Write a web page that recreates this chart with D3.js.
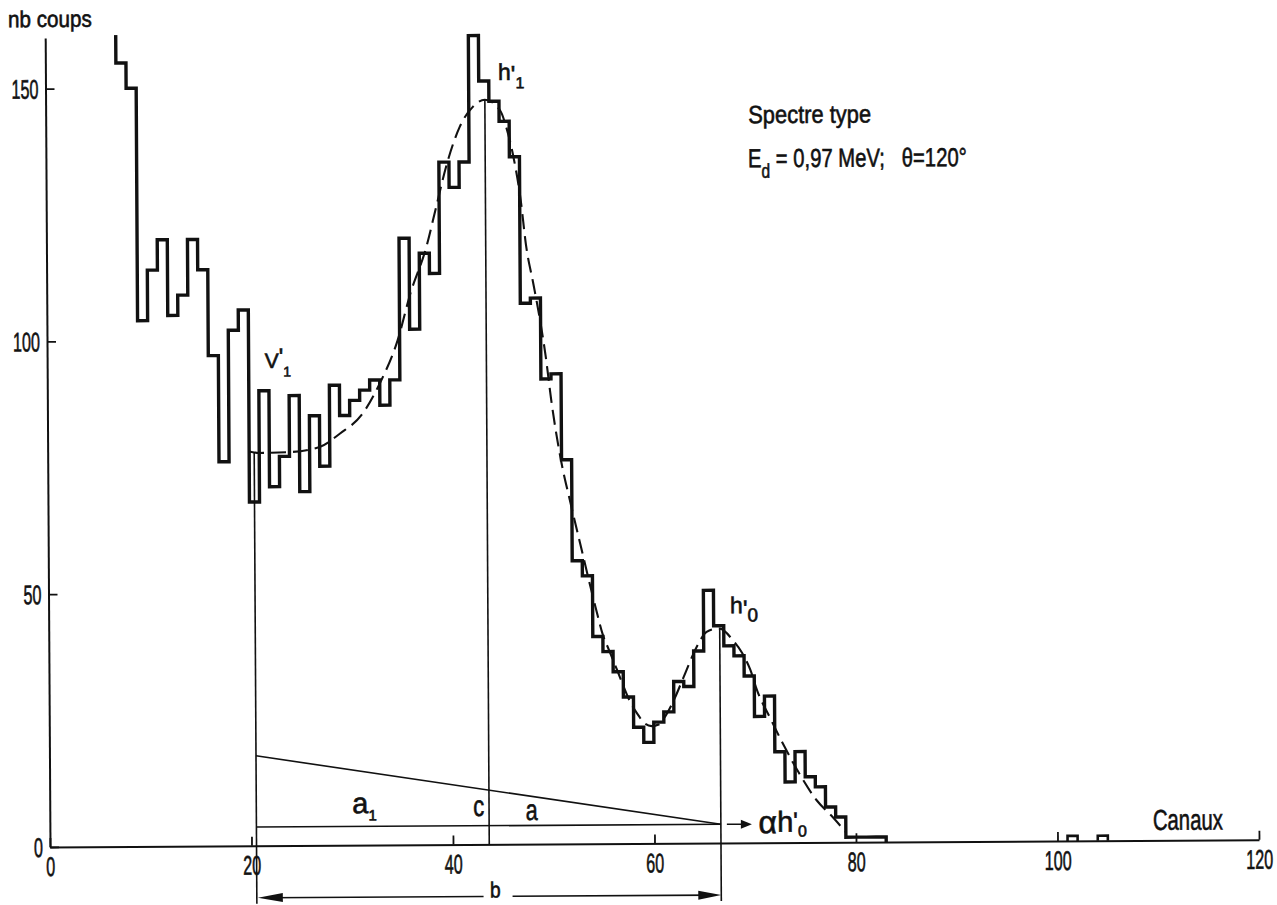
<!DOCTYPE html>
<html>
<head>
<meta charset="utf-8">
<title>Spectre type</title>
<script src="https://cdn.jsdelivr.net/npm/d3@7"></script>
<style>
  html, body { margin: 0; padding: 0; background: #fff; }
  svg { display: block; }
</style>
</head>
<body>
<svg id="chart" width="1277" height="905"></svg>
<script>
// ---- data -------------------------------------------------------------
// Counts per channel (bin [n, n+1]), starting at firstChannel.
// The first bin is off scale and gets clipped at the top of the frame.
const firstChannel = 6;
const counts = [
  175, 155, 150, 104, 114, 120, 105, 109, 120, 114,   // 6-15
   97,  76, 102, 106,  68,  90,  71,  77,  89,  70,   // 16-25
   85,  75,  91,  85,  88,  90,  92,  87,  92, 120,   // 26-35
  102, 117, 113, 135, 130, 135, 160, 151, 147, 143,   // 36-45
  136, 107, 108,  92,  93,  76,  56,  53,  41,  38,   // 46-55
   34,  29,  23,  20,  24,  26,  32,  31,  38,  50,   // 56-65
   43,  39,  37,  33,  25,  29,  18,  12,  18,  13,   // 66-75
   11,   7,   5,   1,   1,   1,   1,   0,   0,   0,   // 76-85
    0,   0,   0,   0,   0,   0,   0,   0,   0,   0,   // 86-95
    0,   0,   0,   0,   0,   1,   0,   0,   1,   0    // 96-105
];

// Fitted curve (dashed)
const fitChannels = [20.0, 21.0, 23.7, 27.0, 29.0, 31.3, 33.0, 34.8, 36.1, 37.7,
                     38.7, 39.7, 41.1, 42.4, 43.6, 45.1, 45.7, 46.4, 47.1, 47.6,
                     48.3, 48.9, 49.5, 50.0, 51.0, 51.8, 52.8, 54.3, 55.0, 55.6,
                     56.5, 57.0, 57.7, 58.5, 59.0, 59.8, 60.5, 61.0, 62.0, 63.0,
                     64.3, 65.3, 66.3, 66.6, 67.9, 68.8, 69.6, 70.3, 71.5, 72.8,
                     74.4, 76.1, 77.7, 79.0];
const fitCounts   = [78.0, 77.7, 77.8, 78.8, 81.4, 85.4, 91.3, 99.8, 109.1, 118.2,
                     126.1, 134.0, 142.0, 145.9, 147.3, 145.2, 141.9, 136.0, 127.4, 118.5,
                     110.9, 104.2, 96.3, 88.0, 75.3, 68.0, 59.4, 46.7, 41.3, 38.3,
                     33.8, 31.2, 27.9, 25.3, 23.9, 23.2, 23.5, 24.7, 28.3, 32.9,
                     38.8, 41.8, 42.4, 42.4, 40.1, 37.6, 34.3, 30.0, 24.9, 19.6,
                     13.7, 8.4, 5.0, 2.0];

const xTicks = [0, 20, 40, 60, 80, 100, 120];
const yTicks = [0, 50, 100, 150];

// Construction marks: valley V'1, peaks h'1 and h'0, base line level
const valleyChannel = 20.5;
const peak1Channel  = 43.6;
const peak0Channel  = 66.6;
const baseLevel     = 3.7;   // alpha h'0
const slopeStart    = 17.8;  // background line at the valley channel

// ---- setup ------------------------------------------------------------
const FONT = "'Liberation Sans', Arial, sans-serif";
const INK = '#111';
const DIGIT_SQUEEZE = 0.6;   // narrow stencil-like figures

const svg = d3.select('#chart');
const x = d3.scaleLinear().domain([0, 120]).range([50, 1259]);
const y = d3.scaleLinear().domain([0, 160]).range([847, 38.1]);

// whole sheet sits very slightly turned
const g = svg.append('g').attr('transform', 'rotate(-0.34,50,847)');

// lettering: slightly heavier than the plain face
function ink(t) {
  return t.attr('font-family', FONT).attr('fill', INK)
    .attr('stroke', INK).attr('stroke-width', 0.6).attr('paint-order', 'stroke');
}

// text squeezed horizontally to a given width
function label(txt, px, py, size, width) {
  const t = ink(g.append('text'))
    .attr('x', 0).attr('y', 0)
    .attr('font-size', size)
    .text(txt);
  const natural = t.node().getComputedTextLength();
  const sx = width ? width / natural : 1;
  t.attr('transform', `translate(${px},${py}) scale(${sx},1)`);
  return t;
}

// letter followed by prime and/or index, in one text element
function primed(px, py, main, mainSize, parts) {
  const t = ink(g.append('text')).attr('x', px).attr('y', py).attr('font-size', mainSize);
  t.append('tspan').text(main);
  parts.forEach(p => {
    t.append('tspan').attr('font-size', p.size).attr('dx', p.dx).attr('dy', p.dy).text(p.t);
  });
  return t;
}

// ---- axes -------------------------------------------------------------
const xAxis = d3.axisBottom(x).tickValues(xTicks)
  .tickSizeInner(-9).tickSizeOuter(0).tickPadding(0).tickFormat(d3.format('d'));
const gx = g.append('g').attr('transform', `translate(0,${y(0)})`).call(xAxis);
gx.select('.domain').attr('stroke', INK).attr('stroke-width', 2);
gx.selectAll('.tick line').attr('stroke', INK).attr('stroke-width', 1.8);
ink(gx.selectAll('.tick text'))
  .attr('x', 0).attr('y', 0).attr('dy', null)
  .attr('font-size', 27)
  .attr('transform', `translate(0,29) scale(${DIGIT_SQUEEZE},1)`);

const yAxis = d3.axisLeft(y).tickValues(yTicks)
  .tickSizeInner(-9).tickSizeOuter(0).tickPadding(7).tickFormat(d3.format('d'));
const gy = g.append('g').attr('transform', `translate(${x(0)},0)`).call(yAxis);
gy.select('.domain').attr('stroke', INK).attr('stroke-width', 2);
gy.selectAll('.tick line').attr('stroke', INK).attr('stroke-width', 1.8);
ink(gy.selectAll('.tick text'))
  .attr('x', 0).attr('dy', '0.35em')
  .attr('font-size', 27)
  .attr('transform', `translate(-7,0) scale(${DIGIT_SQUEEZE},1)`);

// ---- histogram --------------------------------------------------------
g.append('clipPath').attr('id', 'plotClip')
  .append('rect')
  .attr('x', x(0)).attr('y', y(160.5))
  .attr('width', x(120) - x(0)).attr('height', y(0) - y(160.5) + 10);

const step = d3.line().x(d => x(d[0])).y(d => y(d[1])).curve(d3.curveStepAfter);

const runs = [];
let cur = null;
counts.forEach((v, i) => {
  if (v > 0) {
    if (!cur) { cur = []; runs.push(cur); }
    cur.push([firstChannel + i, v]);
  } else cur = null;
});

runs.forEach(run => {
  const pts = [];
  if (run[0][0] > firstChannel) pts.push([run[0][0], 0]);
  run.forEach(p => pts.push(p));
  pts.push([run[run.length - 1][0] + 1, 0]);
  g.append('path')
    .attr('d', step(pts))
    .attr('clip-path', 'url(#plotClip)')
    .attr('fill', 'none')
    .attr('stroke', INK)
    .attr('stroke-width', run.length > 3 ? 3.4 : 2.6)
    .attr('stroke-linejoin', 'miter');
});

// ---- fitted curve -----------------------------------------------------
const fitLine = d3.line()
  .x((d, i) => x(fitChannels[i]))
  .y(d => y(d))
  .curve(d3.curveMonotoneX);
g.append('path')
  .attr('d', fitLine(fitCounts))
  .attr('fill', 'none')
  .attr('stroke', INK)
  .attr('stroke-width', 2.1)
  .attr('stroke-dasharray', '15 7');

function fitAt(c) {
  const i = d3.bisectLeft(fitChannels, c);
  if (i <= 0) return fitCounts[0];
  if (i >= fitChannels.length) return fitCounts[fitCounts.length - 1];
  const c0 = fitChannels[i - 1], c1 = fitChannels[i];
  const t = (c - c0) / (c1 - c0);
  return fitCounts[i - 1] + t * (fitCounts[i] - fitCounts[i - 1]);
}

// ---- construction lines ----------------------------------------------
const thin = sel => sel.attr('stroke', INK).attr('stroke-width', 1.6).attr('fill', 'none');
const dimY = y(0) + 52;   // level of the "b" dimension arrow
const lowEnd = y(0) + 58;

thin(g.append('line')
  .attr('x1', x(valleyChannel)).attr('x2', x(valleyChannel))
  .attr('y1', y(fitAt(valleyChannel))).attr('y2', lowEnd));
thin(g.append('line')
  .attr('x1', x(peak1Channel)).attr('x2', x(peak1Channel))
  .attr('y1', y(fitAt(peak1Channel))).attr('y2', y(0)));
thin(g.append('line')
  .attr('x1', x(peak0Channel)).attr('x2', x(peak0Channel))
  .attr('y1', y(fitAt(peak0Channel))).attr('y2', lowEnd));

// sloping background line and base line
thin(g.append('line')
  .attr('x1', x(valleyChannel)).attr('y1', y(slopeStart))
  .attr('x2', x(peak0Channel)).attr('y2', y(baseLevel)));
thin(g.append('line')
  .attr('x1', x(valleyChannel)).attr('y1', y(baseLevel))
  .attr('x2', x(peak0Channel)).attr('y2', y(baseLevel)));

// arrow toward "alpha h'0"
const arrowTail = x(peak0Channel) + 6, arrowTip = x(peak0Channel) + 31;
thin(g.append('line')
  .attr('x1', arrowTail).attr('x2', arrowTip - 9)
  .attr('y1', y(baseLevel)).attr('y2', y(baseLevel)));
g.append('path')
  .attr('d', `M${arrowTip},${y(baseLevel)}L${arrowTip - 11},${y(baseLevel) - 4.5}L${arrowTip - 11},${y(baseLevel) + 4.5}Z`)
  .attr('fill', INK);

// dimension arrow "b" between valley and h'0 channels
const bLeft = x(valleyChannel) + 1, bRight = x(peak0Channel);
const bMid = (bLeft + bRight) / 2;
thin(g.append('line').attr('x1', bLeft + 10).attr('x2', bMid - 6).attr('y1', dimY).attr('y2', dimY));
thin(g.append('line').attr('x1', bMid + 23).attr('x2', bRight - 10).attr('y1', dimY).attr('y2', dimY));
g.append('path')
  .attr('d', `M${bLeft},${dimY}L${bLeft + 25},${dimY - 4.5}L${bLeft + 25},${dimY + 4.5}Z`)
  .attr('fill', INK);
g.append('path')
  .attr('d', `M${bRight},${dimY}L${bRight - 23},${dimY - 4.5}L${bRight - 23},${dimY + 4.5}Z`)
  .attr('fill', INK);

// ---- text -------------------------------------------------------------
label('nb coups', 12.8, 27, 23, 84);
label('Canaux', 1153, 836.5, 29, 70);

label('Spectre type', 752.5, 127.4, 25, 123);

// E_d = 0,97 MeV;  θ=120°  (one line, index lowered)
{
  const t = ink(g.append('text')).attr('x', 0).attr('y', 0).attr('font-size', 26);
  t.append('tspan').text('E');
  t.append('tspan').attr('font-size', 20).attr('dy', 10.5).text('d');
  t.append('tspan').attr('dy', -10.5).text(' = 0,97 MeV;\u00a0\u00a0\u00a0θ=120°');
  const natural = t.node().getComputedTextLength();
  t.attr('transform', `translate(752,171.5) scale(${219 / natural},1)`);
}

// V'1
primed(267.5, 369.3, 'V', 21, [
  { t: "'", size: 24, dx: 0, dy: -3 },
  { t: '1', size: 14, dx: 0, dy: 11.7 }
]);

// h'1
primed(502.5, 82.7, 'h', 23, [
  { t: "'", size: 24, dx: 0, dy: 2.5 },
  { t: '1', size: 16, dx: 0, dy: 5.8 }
]);

// h'0
primed(731.5, 617.3, 'h', 23, [
  { t: "'", size: 24, dx: 0, dy: 3.7 },
  { t: '0', size: 19, dx: 0, dy: 4.7 }
]);

// segment names on the base construction
primed(352.5, 815, 'a', 29, [
  { t: '1', size: 15, dx: 0, dy: 7.5 }
]);
label('c', 473.4, 818.5, 29, 11);
label('a', 526, 822.8, 29, 12);

// alpha h'0
primed(758.5, 837.5, 'α', 32, [
  { t: 'h', size: 29, dx: 0.3, dy: -1.5 },
  { t: "'", size: 24, dx: 0, dy: -2.5 },
  { t: '0', size: 16, dx: 0, dy: 7.5 }
]);

// b
label('b', bMid + 0.5, 900, 22, 10.7);
</script>
</body>
</html>
